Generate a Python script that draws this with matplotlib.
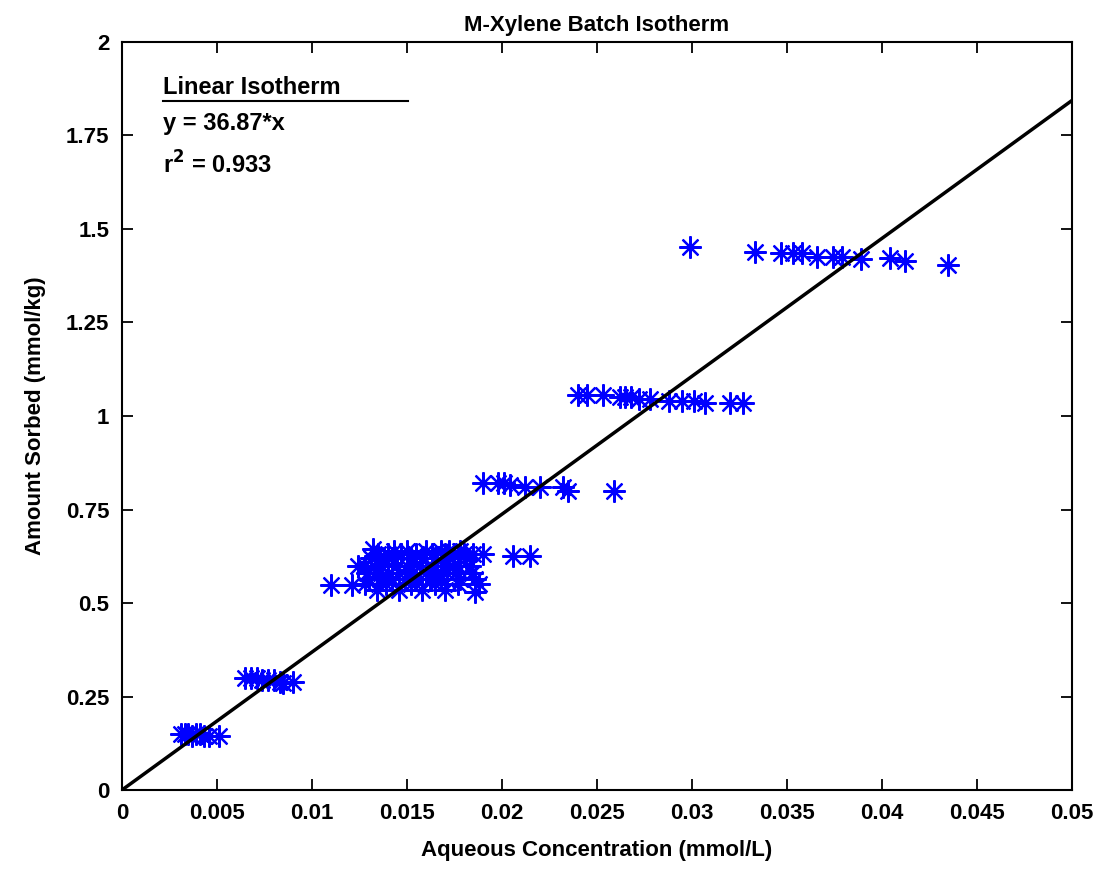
import numpy as np
import matplotlib.pyplot as plt

# measured batch data, grouped by sorbed level
x_g1 = [0.0031, 0.0033, 0.0035, 0.0037, 0.0039, 0.0041, 0.0043, 0.0046, 0.0051]
y_g1 = [0.15, 0.15, 0.15, 0.145, 0.15, 0.15, 0.145, 0.145, 0.145]

x_g2 = [0.0065, 0.0068, 0.0071, 0.0074, 0.0077, 0.0080, 0.0083, 0.0085, 0.0090]
y_g2 = [0.30, 0.30, 0.30, 0.295, 0.295, 0.295, 0.29, 0.285, 0.29]

x_g3 = [0.0132, 0.0143, 0.0150, 0.0160, 0.0168, 0.0172, 0.0178,
        0.0135, 0.0140, 0.0147, 0.0155, 0.0163, 0.0170, 0.0175, 0.0180, 0.0185, 0.0190,
        0.0131, 0.0138, 0.0142, 0.0152, 0.0158, 0.0165, 0.0172, 0.0181, 0.0206, 0.0215,
        0.0124, 0.0128, 0.0133, 0.0137, 0.0145, 0.0150, 0.0157, 0.0163, 0.0169, 0.0174, 0.0177, 0.0183,
        0.0129, 0.0134, 0.0140, 0.0146, 0.0153, 0.0160, 0.0166, 0.0171, 0.0176, 0.0184,
        0.0130, 0.0136, 0.0142, 0.0149, 0.0155, 0.0162, 0.0168, 0.0178, 0.0186,
        0.0110, 0.0121, 0.0128, 0.0139, 0.0152, 0.0165, 0.0177, 0.0188,
        0.0134, 0.0146, 0.0158, 0.0170, 0.0186]
y_g3 = [0.645, 0.64, 0.64, 0.64, 0.64, 0.64, 0.64,
        0.63, 0.63, 0.63, 0.63, 0.63, 0.63, 0.63, 0.63, 0.63, 0.63,
        0.62, 0.62, 0.62, 0.62, 0.62, 0.62, 0.62, 0.62, 0.625, 0.625,
        0.60, 0.60, 0.60, 0.60, 0.60, 0.60, 0.60, 0.60, 0.60, 0.60, 0.60, 0.60,
        0.58, 0.58, 0.58, 0.58, 0.58, 0.58, 0.58, 0.58, 0.58, 0.58,
        0.565, 0.565, 0.565, 0.565, 0.565, 0.565, 0.565, 0.565, 0.565,
        0.548, 0.548, 0.55, 0.55, 0.55, 0.55, 0.55, 0.55,
        0.535, 0.535, 0.535, 0.535, 0.53]

x_g4 = [0.0190, 0.0198, 0.0201, 0.0204, 0.0212, 0.0220, 0.0232, 0.0235, 0.0259]
y_g4 = [0.82, 0.82, 0.82, 0.815, 0.81, 0.81, 0.81, 0.80, 0.80]

x_g5 = [0.0240, 0.0245, 0.0253, 0.0262, 0.0265, 0.0268, 0.0272, 0.0278,
        0.0288, 0.0295, 0.0301, 0.0307, 0.0320, 0.0327]
y_g5 = [1.055, 1.055, 1.055, 1.05, 1.05, 1.05, 1.045, 1.045,
        1.04, 1.04, 1.04, 1.035, 1.035, 1.035]

x_g6 = [0.0299, 0.0333, 0.0347, 0.0353, 0.0358, 0.0366, 0.0374, 0.0379,
        0.0389, 0.0404, 0.0412, 0.0435]
y_g6 = [1.452, 1.439, 1.436, 1.436, 1.436, 1.425, 1.425, 1.425,
        1.42, 1.422, 1.415, 1.404]

slope = 36.87
r2 = 0.933

x_all = x_g1 + x_g2 + x_g3 + x_g4 + x_g5 + x_g6
y_all = y_g1 + y_g2 + y_g3 + y_g4 + y_g5 + y_g6

plt.rcParams['font.family'] = ['Liberation Sans', 'DejaVu Sans']
plt.rcParams['font.weight'] = 'bold'

fig = plt.figure(figsize=(11.08, 8.73), dpi=100)
ax = fig.add_axes([0.110, 0.095, 0.8575, 0.857])

ax.plot(x_all, y_all, linestyle='none', marker=(8, 2, 0), markersize=16,
        markeredgewidth=1.6, color='#0000ff')
xl = np.array([0, 0.05])
ax.plot(xl, slope * xl, color='black', linewidth=2.5)

ax.set_xlim(0, 0.05)
ax.set_ylim(0, 2)
ax.set_xticks(np.arange(0, 0.0501, 0.005))
ax.set_xticklabels(['0', '0.005', '0.01', '0.015', '0.02', '0.025', '0.03',
                    '0.035', '0.04', '0.045', '0.05'])
ax.set_yticks(np.arange(0, 2.01, 0.25))
ax.set_yticklabels(['0', '0.25', '0.5', '0.75', '1', '1.25', '1.5', '1.75', '2'])
ax.tick_params(direction='in', top=True, right=True, length=8, width=1.3,
               labelsize=16, pad=9)
for s in ax.spines.values():
    s.set_linewidth(1.5)

ax.set_title('M-Xylene Batch Isotherm', fontsize=16, fontweight='bold', pad=8)
ax.set_xlabel('Aqueous Concentration (mmol/L)', fontsize=16, fontweight='bold', labelpad=12)
ax.set_ylabel('Amount Sorbed (mmol/kg)', fontsize=16, fontweight='bold', labelpad=14)

tx = 0.00216
ax.text(tx, 1.877, 'Linear Isotherm', fontsize=17, fontweight='bold', va='center')
ax.plot([tx, 0.01505], [1.842, 1.842], color='black', linewidth=1.5)
ax.text(tx, 1.781, 'y = %.2f*x' % slope, fontsize=17, fontweight='bold', va='center')
ax.text(tx, 1.671, 'r$^{\\mathbf{2}}$ = %.3f' % r2, fontsize=17, fontweight='bold', va='center')

fig.savefig('out.png', dpi=100)
